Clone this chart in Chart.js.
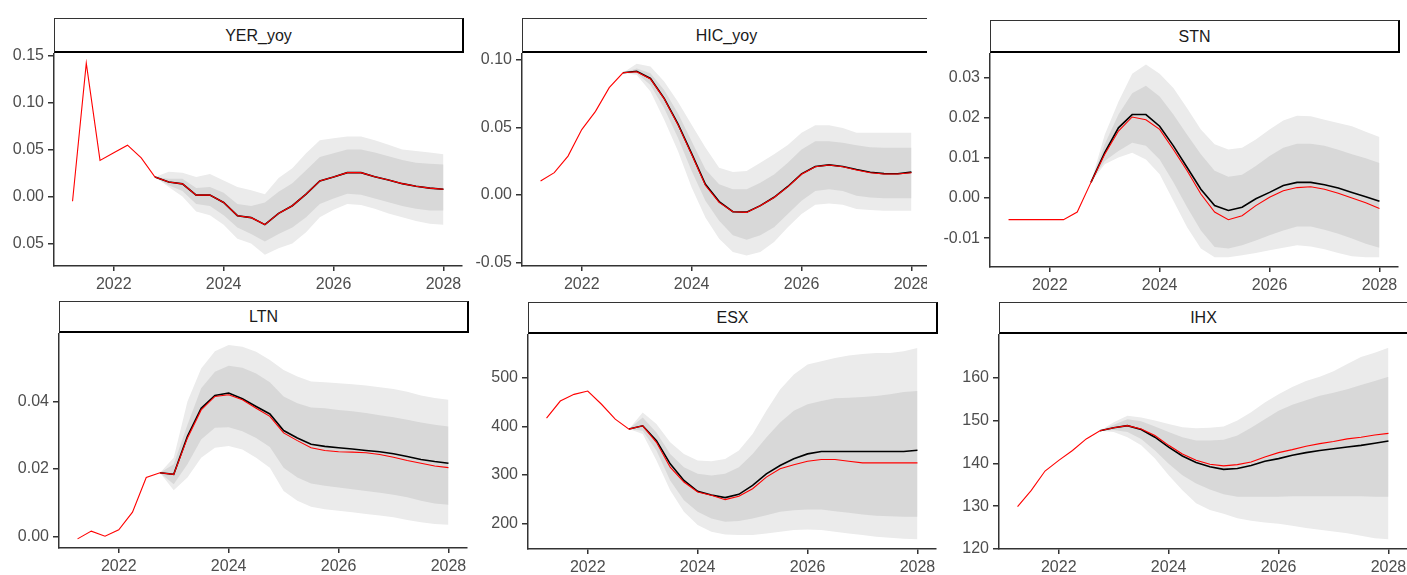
<!DOCTYPE html>
<html>
<head>
<meta charset="utf-8">
<title>Fan charts</title>
<script src="https://cdn.jsdelivr.net/npm/chart.js@4.4.1/dist/chart.umd.min.js"></script>
<style>
  body { margin: 0; background: #fff; width: 1407px; height: 575px; overflow: hidden; position: relative; font-family: 'Liberation Sans', Arial, sans-serif; }
  .panel { position: absolute; overflow: hidden; }
  .panel canvas { position: absolute; left: 0; }
  .strip { position: absolute; box-sizing: border-box; border: 1px solid #333; border-right: 2px solid #000; border-bottom: 2px solid #000; background: #fff; color: #1a1a1a; font-size: 16px; padding-top: 1px; display: flex; align-items: center; justify-content: center; }
</style>
</head>
<body>
<script>
// time axis (decimal years, quarterly)
const quarters = [2021.25, 2021.5, 2021.75, 2022, 2022.25, 2022.5, 2022.75, 2023, 2023.25, 2023.5, 2023.75, 2024, 2024.25, 2024.5,
                  2024.75, 2025, 2025.25, 2025.5, 2025.75, 2026, 2026.25, 2026.5, 2026.75, 2027, 2027.25, 2027.5, 2027.75, 2028];
const fcQuarters = [2022.75, 2023, 2023.25, 2023.5, 2023.75, 2024, 2024.25, 2024.5, 2024.75, 2025, 2025.25, 2025.5, 2025.75,
                    2026, 2026.25, 2026.5, 2026.75, 2027, 2027.25, 2027.5, 2027.75, 2028];
const xTicks = [2022, 2024, 2026, 2028];
const xTickLabels = ['2022', '2024', '2026', '2028'];

// YER_yoy
const yerActual  = [-0.005, 0.142, 0.0385, 0.0465, 0.0547, 0.0412, 0.0208, 0.0155, 0.0135, 0.0015, 0.0015, -0.0063, -0.0204, -0.0225,
                    -0.0299, -0.018, -0.0098, 0.0025, 0.0166, 0.0208, 0.0254, 0.0254, 0.0211, 0.0176, 0.0137, 0.011, 0.0089, 0.0078];
const yerMedian  = [0.0208, 0.0155, 0.0135, 0.0015, 0.0015, -0.0063, -0.0204, -0.0225, -0.0299, -0.018, -0.0098, 0.0025, 0.0166,
                    0.0208, 0.0254, 0.0254, 0.0211, 0.0176, 0.0137, 0.011, 0.0089, 0.0078];
const yerOuterHi = [0.0208, 0.0264, 0.0254, 0.0208, 0.024, 0.017, 0.010, 0.0067, 0.0025, 0.0197, 0.030, 0.046, 0.060,
                    0.062, 0.064, 0.064, 0.060, 0.055, 0.050, 0.0485, 0.047, 0.045];
const yerInnerHi = [0.0208, 0.019, 0.019, 0.009, 0.010, 0.004, -0.008, -0.010, -0.0063, 0.005, 0.014, 0.028, 0.042,
                    0.046, 0.050, 0.050, 0.047, 0.043, 0.039, 0.036, 0.035, 0.034];
const yerInnerLo = [0.0208, 0.012, 0.006, -0.008, -0.010, -0.020, -0.033, -0.040, -0.048, -0.040, -0.033, -0.022, -0.008,
                    -0.002, 0.003, 0.002, -0.002, -0.006, -0.010, -0.013, -0.015, -0.015];
const yerOuterLo = [0.0208, 0.010, 0.000, -0.016, -0.020, -0.030, -0.045, -0.050, -0.062, -0.055, -0.050, -0.038, -0.022,
                    -0.014, -0.008, -0.009, -0.013, -0.018, -0.022, -0.026, -0.029, -0.030];
const yerTicks = [-0.05, 0, 0.05, 0.10, 0.15];
const yerTickLabels = ['0.05', '0.00', '0.05', '0.10', '0.15'];

// HIC_yoy
const hicActual  = [0.0103, 0.0164, 0.0287, 0.0483, 0.0618, 0.0794, 0.0904, 0.0912, 0.0858, 0.0711, 0.052, 0.0299, 0.0071, -0.0056,
                    -0.0125, -0.013, -0.0081, -0.002, 0.0059, 0.0152, 0.0208, 0.0221, 0.0208, 0.0184, 0.0164, 0.0154, 0.0154, 0.0164];
const hicMedian  = [0.0904, 0.0915, 0.0862, 0.0715, 0.0525, 0.0305, 0.0078, -0.005, -0.0125, -0.0128, -0.008, -0.0018, 0.0062,
                    0.0155, 0.021, 0.0222, 0.021, 0.0187, 0.0167, 0.0157, 0.0156, 0.0168];
const hicOuterHi = [0.0904, 0.097, 0.095, 0.084, 0.069, 0.052, 0.035, 0.020, 0.017, 0.0176, 0.0238, 0.030, 0.037,
                    0.046, 0.0515, 0.0515, 0.0495, 0.046, 0.046, 0.046, 0.046, 0.046];
const hicInnerHi = [0.0904, 0.0936, 0.090, 0.0777, 0.0605, 0.0397, 0.0189, 0.0078, 0.0042, 0.0042, 0.009, 0.015, 0.0238,
                    0.0336, 0.0397, 0.0397, 0.0385, 0.0368, 0.0353, 0.0348, 0.0348, 0.0348];
const hicInnerLo = [0.0904, 0.090, 0.0814, 0.0642, 0.0422, 0.0176, -0.0044, -0.0191, -0.030, -0.0333, -0.030, -0.024, -0.0142,
                    -0.0044, 0.0029, 0.0042, 0.0029, -0.0007, -0.002, -0.0025, -0.0025, -0.0025];
const hicOuterLo = [0.0904, 0.0887, 0.0765, 0.0556, 0.0324, 0.0054, -0.0167, -0.0326, -0.0424, -0.0449, -0.0424, -0.035, -0.024,
                    -0.0142, -0.0074, -0.0064, -0.0074, -0.0105, -0.0113, -0.0118, -0.0118, -0.0118];
const hicTicks = [-0.05, 0, 0.05, 0.10];
const hicTickLabels = ['-0.05', '0.00', '0.05', '0.10'];

// STN
const stnActual  = [-0.0054, -0.0054, -0.0054, -0.0054, -0.0054, -0.0035, 0.0039, 0.0109, 0.0167, 0.0202, 0.0195, 0.0171, 0.0121, 0.0068,
                    0.001, -0.0035, -0.0054, -0.0044, -0.0019, 0.0002, 0.0018, 0.0026, 0.0028, 0.0022, 0.0012, 0.0, -0.0012, -0.0026];
const stnMedian  = [0.0039, 0.0113, 0.0175, 0.0208, 0.0208, 0.0179, 0.013, 0.0076, 0.0022, -0.0019, -0.0031, -0.0023, -0.0002,
                    0.0014, 0.0031, 0.0039, 0.0039, 0.0033, 0.0025, 0.0014, 0.0003, -0.0008];
const stnOuterHi = [0.0039, 0.0158, 0.024, 0.031, 0.0333, 0.031, 0.0274, 0.0224, 0.0171, 0.0134, 0.0121, 0.0125, 0.0146,
                    0.0171, 0.0193, 0.0205, 0.0204, 0.0195, 0.0187, 0.0179, 0.0165, 0.0152];
const stnInnerHi = [0.0039, 0.0134, 0.0208, 0.0261, 0.028, 0.0253, 0.0208, 0.0158, 0.0109, 0.0068, 0.0053, 0.0058, 0.008,
                    0.0105, 0.0125, 0.0135, 0.0135, 0.013, 0.012, 0.0109, 0.0099, 0.0087];
const stnInnerLo = [0.0039, 0.0092, 0.0117, 0.0138, 0.013, 0.0096, 0.0039, -0.0023, -0.0081, -0.0122, -0.0126, -0.0118, -0.0106,
                    -0.0093, -0.0081, -0.0071, -0.0071, -0.0079, -0.0089, -0.0101, -0.0114, -0.0124];
const stnOuterLo = [0.0039, 0.0084, 0.0101, 0.0113, 0.0096, 0.0059, -0.0007, -0.0073, -0.0126, -0.0148, -0.0148, -0.0143, -0.0137,
                    -0.013, -0.0124, -0.0118, -0.0121, -0.0128, -0.0137, -0.0145, -0.0148, -0.0148];
const stnTicks = [-0.01, 0, 0.01, 0.02, 0.03];
const stnTickLabels = ['-0.01', '0.00', '0.01', '0.02', '0.03'];

// LTN
const ltnActual  = [-0.0007, 0.0016, 0.0001, 0.002, 0.0072, 0.0175, 0.0189, 0.0184, 0.0292, 0.0375, 0.0415, 0.042, 0.0405, 0.038,
                    0.0356, 0.0307, 0.0284, 0.0263, 0.0255, 0.0251, 0.025, 0.0248, 0.0243, 0.0235, 0.0225, 0.0217, 0.0209, 0.0204];
const ltnMedian  = [0.0189, 0.0184, 0.0297, 0.038, 0.0418, 0.0425, 0.0408, 0.0385, 0.0363, 0.0314, 0.0292, 0.0273, 0.0267,
                    0.0263, 0.0259, 0.0255, 0.0251, 0.0245, 0.0237, 0.0228, 0.0222, 0.0217];
const ltnOuterHi = [0.0189, 0.0233, 0.040, 0.0498, 0.0549, 0.0567, 0.0562, 0.0547, 0.0523, 0.0493, 0.0474, 0.0459, 0.0457,
                    0.0454, 0.0451, 0.0447, 0.0442, 0.0437, 0.0429, 0.0418, 0.041, 0.0405];
const ltnInnerHi = [0.0189, 0.0214, 0.0331, 0.0439, 0.0488, 0.0506, 0.05, 0.0483, 0.0457, 0.0415, 0.0395, 0.0382, 0.038,
                    0.0375, 0.0371, 0.0366, 0.0359, 0.0353, 0.0346, 0.0338, 0.0331, 0.0326];
const ltnInnerLo = [0.0189, 0.0155, 0.0214, 0.0287, 0.0322, 0.0324, 0.0312, 0.0292, 0.0265, 0.0204, 0.0175, 0.0157, 0.015,
                    0.0145, 0.014, 0.0135, 0.013, 0.0124, 0.0116, 0.0106, 0.0098, 0.0094];
const ltnOuterLo = [0.0189, 0.0137, 0.0175, 0.0233, 0.0263, 0.0268, 0.0258, 0.0233, 0.0204, 0.0135, 0.0106, 0.0088, 0.0081,
                    0.0076, 0.0072, 0.0067, 0.0062, 0.0057, 0.0049, 0.0042, 0.0037, 0.0035];
const ltnTicks = [0, 0.02, 0.04];
const ltnTickLabels = ['0.00', '0.02', '0.04'];

// ESX
const esxActual  = [416.8, 452, 465.8, 472.7, 445.4, 414.7, 394.3, 401, 367, 315.9, 285.2, 264.8, 258, 249,
                    256, 271.6, 295.4, 312.5, 320.7, 328.2, 331.6, 331.6, 328.2, 324.7, 324.7, 324.7, 324.7, 324.7];
const esxMedian  = [394.3, 401, 370.4, 322.7, 288.6, 266, 258.6, 253.2, 260, 278.4, 302.2, 319.3, 333,
                    343.2, 348, 348, 348, 348, 348, 348, 348, 350.6];
const esxOuterHi = [394.3, 428.4, 404.5, 367, 343.2, 329.5, 328.2, 332.9, 350, 384, 431.8, 476, 506.7,
                    527.2, 534, 540.8, 545.6, 549, 551, 551, 554.5, 561.3];
const esxInnerHi = [394.3, 418, 387.5, 343.2, 315.9, 302.2, 298.8, 302.2, 315.9, 343.2, 377.2, 408, 431.8,
                    445.4, 452.2, 457.7, 459, 460.4, 462.4, 465.8, 470.6, 472.7];
const esxInnerLo = [394.3, 390.9, 350, 288.6, 247.7, 223.9, 210.2, 203.4, 204.8, 210.2, 217, 223.9, 227.3,
                    228.6, 228.6, 225.2, 221.8, 218.4, 215.7, 215, 213.6, 213.6];
const esxOuterLo = [394.3, 384, 329.5, 268.2, 223.9, 196.6, 183, 177.5, 176.1, 176.1, 179.5, 183, 186.4,
                    187.7, 186.4, 183, 179.5, 176.1, 172.7, 170.7, 168.6, 167.3];
const esxTicks = [200, 300, 400, 500];
const esxTickLabels = ['200', '300', '400', '500'];

// IHX
const ihxActual  = [129.9, 133.7, 138.2, 140.7, 143, 145.7, 147.6, 148.3, 148.8, 148, 146.5, 144.2, 142.2, 140.7,
                    139.8, 139.4, 139.7, 140.3, 141.5, 142.5, 143.2, 144, 144.6, 145.1, 145.7, 146.1, 146.6, 147];
const ihxMedian  = [147.6, 148.3, 148.8, 147.9, 146.1, 143.8, 141.7, 140.2, 139.2, 138.6, 138.8, 139.5, 140.5,
                    141.1, 141.9, 142.5, 143, 143.4, 143.8, 144.2, 144.7, 145.2];
const ihxOuterHi = [147.6, 149.6, 151.1, 150.7, 150, 149.2, 148.4, 148.2, 148.3, 148.6, 150, 151.9, 154.2,
                    156.1, 157.8, 159.2, 160.2, 161.5, 163.2, 164.8, 165.8, 167];
const ihxInnerHi = [147.6, 149, 150.3, 149.8, 148.6, 147.3, 146.1, 145.3, 145.3, 145.5, 146.5, 148.3, 150.3,
                    152.3, 153.7, 154.7, 155.8, 156.5, 157.3, 158.3, 159.2, 160.2];
const ihxInnerLo = [147.6, 147.8, 147.3, 145.7, 143, 139.9, 137.2, 135.3, 133.9, 132.8, 132.2, 132.2, 132.2,
                    132.2, 132.3, 132.3, 132.3, 132.3, 132.3, 132.3, 132.2, 132.2];
const ihxOuterLo = [147.6, 147.3, 146.1, 144.2, 141.1, 137.2, 133.7, 130.7, 129.1, 128.2, 127.2, 126.6, 126.2,
                    125.9, 125.4, 124.9, 124.5, 124.1, 123.7, 123.1, 122.5, 122.3];
const ihxTicks = [120, 130, 140, 150, 160];
const ihxTickLabels = ['120', '130', '140', '150', '160'];

const outerGrey = 'rgb(235,235,235)';
const innerGrey = 'rgb(216,216,216)';
const axisColor = '#333333';
const tickText = '#4d4d4d';

Chart.defaults.font.family = "'Liberation Sans', Arial, sans-serif";

function pts(xs, ys)
{
  return xs.map((x, i) => ({ x: x, y: ys[i] }));
}

function addPanel(p)
{
  const axisW = 54, padTop = 12, axisH = 32, padRight = 14, plotW = 408;
  const plotH = p.bottom - p.top;
  const left = p.left - axisW;
  const fullW = axisW + plotW + padRight;

  const wrap = document.createElement('div');
  wrap.className = 'panel';
  wrap.style.left = left + 'px';
  wrap.style.top = p.stripTop + 'px';
  wrap.style.width = (p.clipRight ? p.clipRight - left : fullW) + 'px';
  wrap.style.height = (p.bottom + axisH - p.stripTop) + 'px';
  document.body.appendChild(wrap);

  const canvas = document.createElement('canvas');
  canvas.width = fullW;
  canvas.height = padTop + plotH + axisH;
  canvas.style.top = (p.top - padTop - p.stripTop) + 'px';
  wrap.appendChild(canvas);

  const strip = document.createElement('div');
  strip.className = 'strip';
  strip.textContent = p.title;
  strip.style.left = axisW + 'px';
  strip.style.top = '0px';
  strip.style.width = (plotW + 2) + 'px';
  strip.style.height = (p.top - p.stripTop + 1) + 'px';
  wrap.appendChild(strip);

  const noLine = 'rgba(0,0,0,0)';
  const config =
  {
    type: 'line',
    data:
    {
      datasets:
      [
        { data: pts(quarters, p.actual), borderColor: '#ff0000', borderWidth: 1.1, pointRadius: 0, fill: false },
        { data: pts(fcQuarters, p.median), borderColor: '#000000', borderWidth: 1.6, pointRadius: 0, fill: false },
        { data: pts(fcQuarters, p.innerHi), borderColor: noLine, borderWidth: 0, backgroundColor: innerGrey, pointRadius: 0, fill: '+1' },
        { data: pts(fcQuarters, p.innerLo), borderColor: noLine, borderWidth: 0, pointRadius: 0, fill: false },
        { data: pts(fcQuarters, p.outerHi), borderColor: noLine, borderWidth: 0, backgroundColor: outerGrey, pointRadius: 0, fill: '+1' },
        { data: pts(fcQuarters, p.outerLo), borderColor: noLine, borderWidth: 0, pointRadius: 0, fill: false }
      ]
    },
    options:
    {
      responsive: false,
      animation: false,
      events: [],
      layout: { autoPadding: false, padding: { top: padTop, right: padRight, left: 0, bottom: 0 } },
      plugins: { legend: { display: false }, tooltip: { enabled: false } },
      scales:
      {
        x:
        {
          type: 'linear',
          min: 2020.9125,
          max: 2028.3375,
          afterFit: (s) => { s.height = axisH; },
          afterBuildTicks: (s) => { s.ticks = xTicks.map((v) => ({ value: v })); },
          ticks: { callback: (v, i) => xTickLabels[i], color: tickText, font: { size: 16 }, padding: 4, autoSkip: false, maxRotation: 0 },
          grid: { drawOnChartArea: false, drawTicks: true, tickLength: 5, color: axisColor, lineWidth: 1.5 },
          border: { display: true, color: axisColor, width: 1.5 }
        },
        y:
        {
          type: 'linear',
          min: p.yMin,
          max: p.yMax,
          afterFit: (s) => { s.width = axisW; },
          afterBuildTicks: (s) => { s.ticks = p.ticks.map((v) => ({ value: v })); },
          ticks: { callback: (v, i) => p.tickLabels[i], color: tickText, font: { size: 16 }, padding: 4, autoSkip: false },
          grid: { drawOnChartArea: false, drawTicks: true, tickLength: 6, color: axisColor, lineWidth: 1.5 },
          border: { display: true, color: axisColor, width: 1.5 }
        }
      }
    }
  };
  new Chart(canvas, config);
}

addPanel({ title: 'YER_yoy', left: 54, top: 52, bottom: 266, stripTop: 18,
  actual: yerActual, median: yerMedian, outerHi: yerOuterHi, innerHi: yerInnerHi, innerLo: yerInnerLo, outerLo: yerOuterLo,
  yMin: -0.074, yMax: 0.1522, ticks: yerTicks, tickLabels: yerTickLabels });
addPanel({ title: 'HIC_yoy', left: 522, top: 52, bottom: 266, stripTop: 18, clipRight: 927,
  actual: hicActual, median: hicMedian, outerHi: hicOuterHi, innerHi: hicInnerHi, innerLo: hicInnerLo, outerLo: hicOuterLo,
  yMin: -0.0527, yMax: 0.1046, ticks: hicTicks, tickLabels: hicTickLabels });
addPanel({ title: 'STN', left: 990, top: 52, bottom: 267, stripTop: 20,
  actual: stnActual, median: stnMedian, outerHi: stnOuterHi, innerHi: stnInnerHi, innerLo: stnInnerLo, outerLo: stnOuterLo,
  yMin: -0.0172, yMax: 0.036, ticks: stnTicks, tickLabels: stnTickLabels });
addPanel({ title: 'LTN', left: 59, top: 332, bottom: 548, stripTop: 301,
  actual: ltnActual, median: ltnMedian, outerHi: ltnOuterHi, innerHi: ltnInnerHi, innerLo: ltnInnerLo, outerLo: ltnOuterLo,
  yMin: -0.0034, yMax: 0.0601, ticks: ltnTicks, tickLabels: ltnTickLabels });
addPanel({ title: 'ESX', left: 528, top: 333, bottom: 549, stripTop: 302,
  actual: esxActual, median: esxMedian, outerHi: esxOuterHi, innerHi: esxInnerHi, innerLo: esxInnerLo, outerLo: esxOuterLo,
  yMin: 147.4, yMax: 588.8, ticks: esxTicks, tickLabels: esxTickLabels });
addPanel({ title: 'IHX', left: 999, top: 333, bottom: 549, stripTop: 302,
  actual: ihxActual, median: ihxMedian, outerHi: ihxOuterHi, innerHi: ihxInnerHi, innerLo: ihxInnerLo, outerLo: ihxOuterLo,
  yMin: 120, yMax: 170.05, ticks: ihxTicks, tickLabels: ihxTickLabels });
</script>
</body>
</html>
